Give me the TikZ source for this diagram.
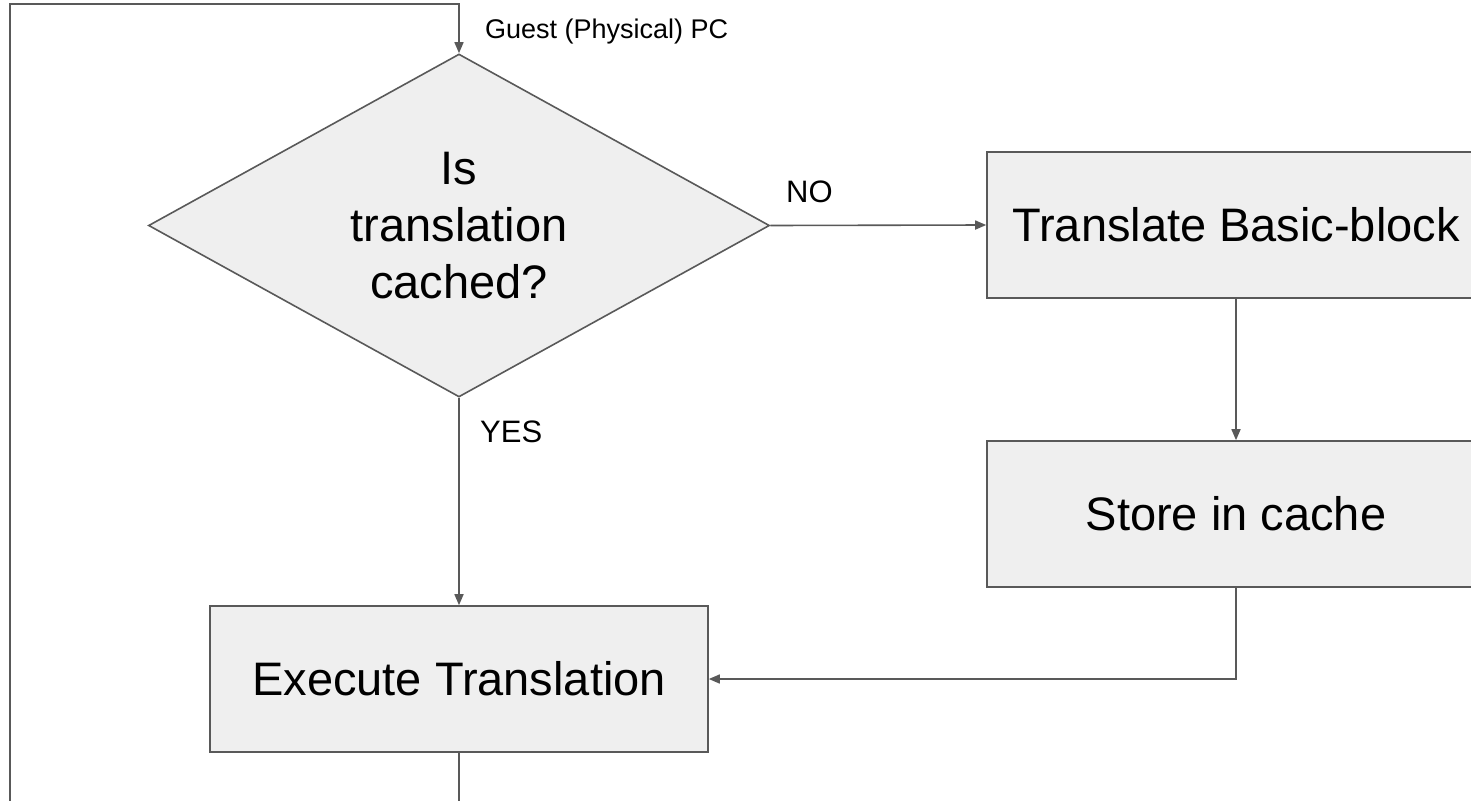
\documentclass[tikz,border=0pt]{standalone}
\usepackage{fontspec}
\setmainfont{Liberation Sans}
\usetikzlibrary{shapes.geometric,arrows.meta}
\definecolor{edge}{HTML}{595959}
\definecolor{boxfill}{HTML}{EFEFEF}
\begin{document}
\begin{tikzpicture}[x=1pt,y=-1pt,
  line/.style={draw=edge, line width=1.6pt},
  flow/.style={line, -{Triangle[length=11pt,width=9pt]}},
  stepbox/.style={line, fill=boxfill, minimum width=498pt, minimum height=146pt,
    inner sep=0pt, font=\fontsize{47}{56.7}\selectfont},
  decision/.style={diamond, line, fill=boxfill, minimum width=621pt, minimum height=343pt,
    aspect=1.81, inner sep=0pt, align=center, font=\fontsize{47}{56.7}\selectfont},
  tag/.style={font=\fontsize{27}{32}\selectfont, inner sep=0pt, anchor=base west},
  branch/.style={tag, font=\fontsize{31}{36}\selectfont}]
\useasboundingbox (0,0) rectangle (1471,800);
\clip (0,0) rectangle (1471,800);

% decision and process blocks
\node[decision] (q)  at (459,225.5) {Is\\translation\\cached?};
\node[stepbox]  (tr) at (1236,225) {Translate Basic-block};
\node[stepbox]  (st) at (1236,514) {Store in cache};
\node[stepbox]  (ex) at (459,679)  {Execute Translation};

% corner points of the loop back to the start
\coordinate (lb) at (10,830);
\coordinate (lt) at (10,4);

% connectors
\draw[flow] (q.east) -- (tr.west);
\draw[flow] (tr.south) -- (st.north);
\draw[flow] (st.south) |- (ex.east);
\draw[flow] (q.south) -- (ex.north);
\draw[flow] (ex.south) |- (lb) -- (lt) -| (q.north);

% labels
\node[tag]    (guest) at (485,38)  {Guest (Physical) PC};
\node[branch] (no)    at (786,202) {NO};
\node[branch] (yes)   at (480,442) {YES};
\end{tikzpicture}
\end{document}
